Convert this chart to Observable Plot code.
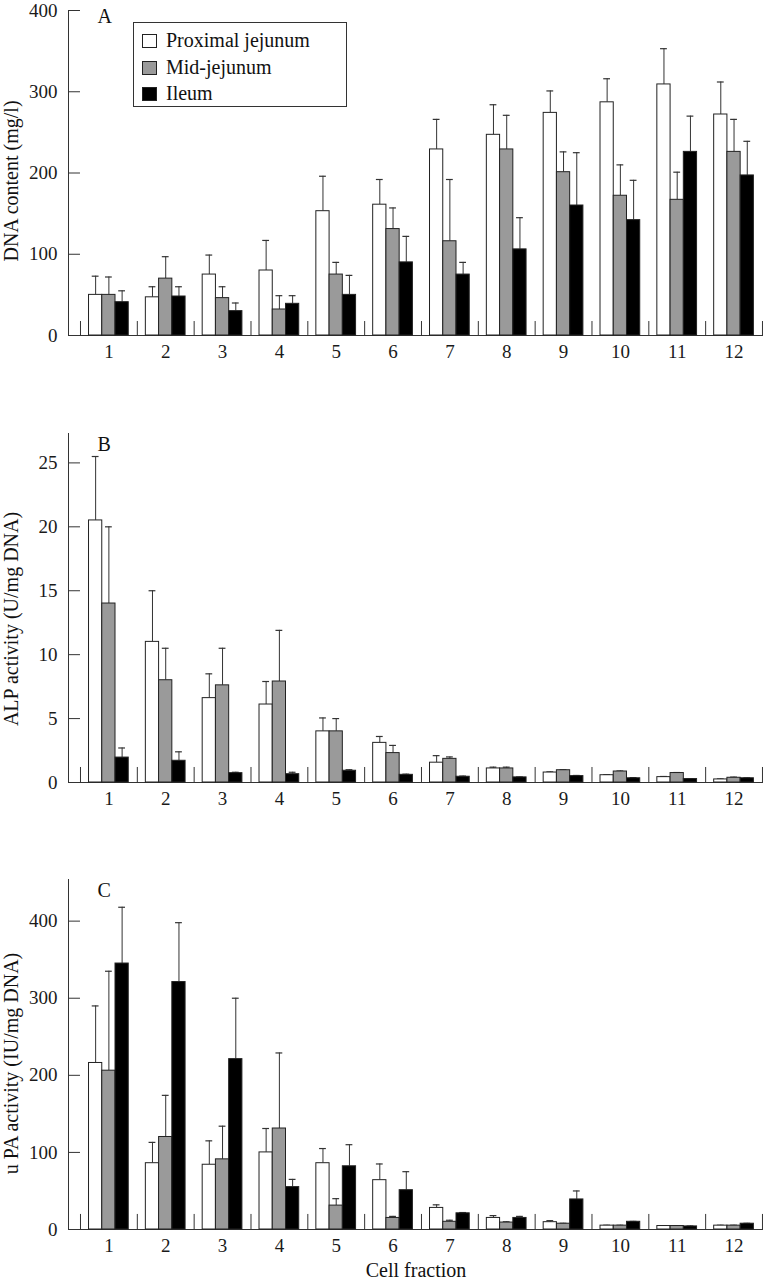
<!DOCTYPE html>
<html>
<head>
<meta charset="utf-8">
<script src="https://cdn.jsdelivr.net/npm/d3@7"></script>
<script src="https://cdn.jsdelivr.net/npm/@observablehq/plot@0.6"></script>
<style>
  body { margin: 0; background: #fff; }
  #wrap { position: relative; width: 763px; height: 1280px; overflow: hidden; }
  #wrap svg { display: block; }
  .legend { position: absolute; left: 133px; top: 22px; width: 214px; height: 85px;
    border: 1px solid #333; background: #fff; box-sizing: border-box;
    font-family: "Liberation Serif", serif; font-size: 20px; color: #111; }
  .legend .sw { position: absolute; left: 8px; width: 15px; height: 14px; box-sizing: border-box; border: 1px solid #222; }
  .legend .lb { position: absolute; left: 32px; line-height: 20px; white-space: nowrap; }
</style>
</head>
<body>
<div id="wrap"></div>
<script>
// ---- data ----
const fractions = [1, 2, 3, 4, 5, 6, 7, 8, 9, 10, 11, 12];
const seriesNames = ["Proximal jejunum", "Mid-jejunum", "Ileum"];

// Panel A: DNA content (mg/l)
const dnaProximal   = [50, 47, 75, 80, 153, 161, 229, 247, 274, 287, 309, 272];
const dnaProximalSD = [23, 13, 24, 37, 43, 31, 37, 37, 27, 29, 44, 40];
const dnaMid        = [50, 70, 46, 32, 75, 131, 116, 229, 201, 172, 167, 226];
const dnaMidSD      = [22, 27, 14, 17, 15, 26, 76, 42, 25, 38, 34, 40];
const dnaIleum      = [41, 48, 30, 39, 50, 90, 75, 106, 160, 142, 226, 197];
const dnaIleumSD    = [14, 12, 10, 10, 24, 32, 15, 39, 65, 49, 44, 42];

// Panel B: ALP activity (U/mg DNA)
const alpProximal   = [20.5, 11.0, 6.6, 6.1, 4.0, 3.1, 1.55, 1.1, 0.78, 0.57, 0.42, 0.24];
const alpProximalSD = [5.0, 4.0, 1.9, 1.8, 1.05, 0.5, 0.55, 0.1, 0.05, 0.05, 0.05, 0.04];
const alpMid        = [14.0, 8.0, 7.6, 7.9, 4.0, 2.3, 1.85, 1.1, 0.96, 0.86, 0.74, 0.37];
const alpMidSD      = [6.0, 2.5, 2.9, 4.0, 1.0, 0.6, 0.15, 0.1, 0.04, 0.04, 0.04, 0.05];
const alpIleum      = [1.95, 1.7, 0.73, 0.65, 0.92, 0.6, 0.45, 0.4, 0.5, 0.33, 0.27, 0.33];
const alpIleumSD    = [0.75, 0.7, 0.07, 0.15, 0.08, 0.05, 0.05, 0.03, 0.05, 0.05, 0.03, 0.03];

// Panel C: uPA activity (IU/mg DNA)
const upaProximal   = [216, 86, 84, 100, 86, 64, 28, 15, 9.5, 5, 4.5, 5];
const upaProximalSD = [74, 27, 31, 31, 19, 21, 4, 3, 2, 0.5, 0.5, 0.5];
const upaMid        = [206, 120, 91, 131, 31, 15, 10, 9, 7.5, 5, 4.5, 5];
const upaMidSD      = [129, 54, 43, 98, 9, 2, 2, 1, 0.5, 0.5, 0.5, 0.5];
const upaIleum      = [345, 321, 221, 55, 82, 51, 21, 15, 39, 10, 4, 7.5];
const upaIleumSD    = [73, 77, 79, 10, 28, 24, 1, 2, 11, 0.5, 0.5, 0.5];

const ticksA = [0, 100, 200, 300, 400];
const ticksB = [0, 5, 10, 15, 20, 25];
const ticksC = [0, 100, 200, 300, 400];

// ---- styling ----
const seriesFill = ["#ffffff", "#9a9a9a", "#000000"];
const FONT = "Liberation Serif, serif";
const X0 = 0.289, X1 = 12.518;   // x domain (group i spans i-0.5 .. i+0.5)
const BW = 0.233;                 // bar width in group units

function rowsOf(values, sds) {
  const out = [];
  fractions.forEach((f, i) => {
    values.forEach((vals, k) => {
      out.push({fraction: f, k, series: seriesNames[k], value: vals[i], sd: sds[k][i]});
    });
  });
  return out;
}

const xl = d => d.fraction - 0.35 + d.k * BW;
const xc = d => xl(d) + BW / 2;
const separators = [...fractions.map(f => f - 0.5), fractions.length + 0.5];

function panel({rows, yTop, ticks, ylabel, letter, height, marginTop, marginBottom, labelDy, letterDy, extra = []}) {
  return Plot.plot({
    width: 763, height, marginLeft: 68, marginRight: 0, marginTop, marginBottom,
    style: {fontFamily: FONT, fontSize: "19px", color: "#1a1a1a", background: "#fff", overflow: "visible"},
    x: {type: "linear", domain: [X0, X1], axis: null},
    y: {domain: [0, yTop], axis: null},
    marks: [
      Plot.frame({anchor: "left", stroke: "#333"}),
      Plot.frame({anchor: "bottom", stroke: "#333"}),
      Plot.ruleY(ticks, {x1: X0, x2: 0.5, stroke: "#333"}),
      Plot.ruleX(separators, {y1: 0, y2: yTop * 0.043, stroke: "#333"}),
      Plot.ruleX(rows, {x: xc, y1: "value", y2: d => d.value + d.sd, stroke: "#333", strokeWidth: 1}),
      Plot.ruleY(rows, {y: d => d.value + d.sd, x1: d => xc(d) - 0.06, x2: d => xc(d) + 0.06, stroke: "#333", strokeWidth: 1.2}),
      Plot.rectY(rows, {x1: xl, x2: d => xl(d) + BW, y1: 0, y2: "value",
        fill: d => seriesFill[d.k], stroke: "#222", strokeWidth: 1}),
      Plot.axisY({ticks, tickSize: 0, tickPadding: 11, label: null, fontSize: 19, tickFormat: d => String(d)}),
      Plot.axisX({ticks: fractions, tickSize: 0, tickPadding: 9, label: null, fontSize: 19, tickFormat: d => String(d)}),
      Plot.text([ylabel], {frameAnchor: "left", rotate: -90, dx: -57, dy: labelDy, fontSize: 20,
        textAnchor: "middle", lineAnchor: "middle", fill: "#111"}),
      Plot.text([letter], {frameAnchor: "top-left", dx: 29, dy: letterDy, fontSize: 20,
        textAnchor: "start", lineAnchor: "top", fill: "#111"}),
      ...extra
    ]
  });
}

const wrap = document.getElementById("wrap");

wrap.append(panel({
  rows: rowsOf([dnaProximal, dnaMid, dnaIleum], [dnaProximalSD, dnaMidSD, dnaIleumSD]),
  yTop: 400, ticks: ticksA, ylabel: "DNA content (mg/l)", letter: "A",
  height: 370, marginTop: 10, marginBottom: 35, labelDy: 8, letterDy: -2
}));

wrap.append(panel({
  rows: rowsOf([alpProximal, alpMid, alpIleum], [alpProximalSD, alpMidSD, alpIleumSD]),
  yTop: 27.3, ticks: ticksB, ylabel: "ALP activity (U/mg DNA)", letter: "B",
  height: 445, marginTop: 63, marginBottom: 33, labelDy: 11, letterDy: 3
}));

wrap.append(panel({
  rows: rowsOf([upaProximal, upaMid, upaIleum], [upaProximalSD, upaMidSD, upaIleumSD]),
  yTop: 454, ticks: ticksC, ylabel: "u PA activity (IU/mg DNA)", letter: "C",
  height: 465, marginTop: 64, marginBottom: 51, labelDy: 9, letterDy: 3,
  extra: [Plot.text(["Cell fraction"], {frameAnchor: "bottom", dy: 41, fontSize: 20,
    textAnchor: "middle", lineAnchor: "middle", fill: "#111"})]
}));

// legend
const legend = document.createElement("div");
legend.className = "legend";
seriesNames.forEach((name, k) => {
  const sw = document.createElement("div");
  sw.className = "sw";
  sw.style.top = (11 + k * 26.7) + "px";
  sw.style.background = seriesFill[k];
  legend.append(sw);
  const lb = document.createElement("div");
  lb.className = "lb";
  lb.style.top = (7 + k * 26.7) + "px";
  lb.textContent = name;
  legend.append(lb);
});
wrap.append(legend);
</script>
</body>
</html>
